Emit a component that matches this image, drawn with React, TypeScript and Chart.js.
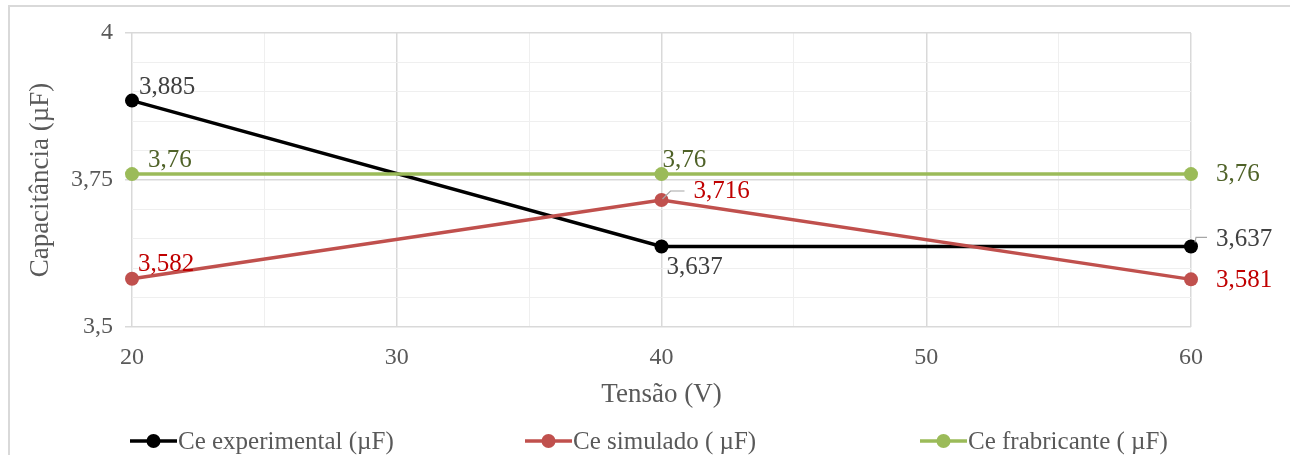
import React, { useEffect, useRef } from "react";
import { Chart, registerables } from "chart.js";

Chart.register(...registerables);

// ---- Data ----
const voltages = [20, 40, 60];
const ceExperimental = [3.885, 3.637, 3.637];
const ceSimulado = [3.582, 3.716, 3.581];
const ceFabricante = [3.76, 3.76, 3.76];
const seriesNames = ["Ce experimental (µF)", "Ce simulado ( µF)", "Ce frabricante ( µF)"];
const yTickLabels = [3.5, 3.75, 4];
const xTickLabels = [20, 30, 40, 50, 60];
const xAxisTitle = "Tensão (V)";
const yAxisTitle = "Capacitância (µF)";

// ---- Styles ----
const lineColors = ["#000000", "#C0504D", "#9BBB59"];
const labelColors = ["#404040", "#C00000", "#4F6228"];
const FONT = "'Liberation Serif', 'Times New Roman', serif";

// data-label placement relative to each point (px)
const labelPlacement = [
  [{ dx: 7, dy: -13 }, { dx: 5, dy: 21 }, { dx: 25, dy: -7, leader: "a" }],
  [{ dx: 6, dy: -14 }, { dx: 32, dy: -9, leader: "b" }, { dx: 25, dy: 1 }],
  [{ dx: 16, dy: -14 }, { dx: 1, dy: -14 }, { dx: 25, dy: 0 }],
];

const fmt = (v: number) => String(Math.round(v * 1000) / 1000).replace(".", ",");
const isMajorY = (v: number) => yTickLabels.some((t) => Math.abs(t - v) < 1e-6);
const isMajorX = (v: number) => xTickLabels.some((t) => Math.abs(t - v) < 1e-6);

const dataLabelPlugin = {
  id: "dataLabels",
  afterDatasetsDraw(chart: any) {
    const ctx = chart.ctx;
    ctx.save();
    ctx.font = `25px ${FONT}`;
    ctx.textAlign = "left";
    ctx.textBaseline = "middle";
    chart.data.datasets.forEach((ds: any, di: number) => {
      const meta = chart.getDatasetMeta(di);
      meta.data.forEach((pt: any, i: number) => {
        const pl = labelPlacement[di][i];
        const px = pt.x;
        const py = pt.y;
        if (pl.leader) {
          ctx.strokeStyle = "#a6a6a6";
          ctx.lineWidth = 1.2;
          ctx.beginPath();
          if (pl.leader === "a") {
            ctx.moveTo(px + 4, py - 4);
            ctx.lineTo(px + 5, py - 9);
            ctx.lineTo(px + 16, py - 9);
          } else {
            ctx.moveTo(px + 1, py - 1);
            ctx.lineTo(px + 9, py - 9);
            ctx.lineTo(px + 23, py - 9);
          }
          ctx.stroke();
        }
        ctx.fillStyle = labelColors[di];
        ctx.fillText(fmt(ds.data[i].y), px + pl.dx, py + pl.dy);
      });
    });
    ctx.restore();
  },
};

function ChartCanvas() {
  const ref = useRef<HTMLCanvasElement | null>(null);
  useEffect(() => {
    if (!ref.current) return;
    const series = [ceExperimental, ceSimulado, ceFabricante];
    const chart = new Chart(ref.current, {
      type: "line",
      data: {
        datasets: series.map((s, si) => ({
          label: seriesNames[si],
          data: voltages.map((x, i) => ({ x, y: s[i] })),
          borderColor: lineColors[si],
          backgroundColor: lineColors[si],
          pointBackgroundColor: lineColors[si],
          pointBorderColor: lineColors[si],
          borderWidth: 3.5,
          pointRadius: 7,
          pointBorderWidth: 0,
          tension: 0,
          clip: false as any,
          order: 3 - si,
        })),
      },
      options: {
        animation: false,
        responsive: false,
        devicePixelRatio: 1,
        layout: { padding: { top: 33, right: 99, left: 0, bottom: 0 } },
        plugins: {
          legend: { display: false },
          title: { display: false },
          tooltip: { enabled: false },
        },
        scales: {
          x: {
            type: "linear",
            min: 20,
            max: 60,
            ticks: {
              stepSize: 5,
              autoSkip: false,
              maxRotation: 0,
              padding: 16,
              color: "#595959",
              font: { family: FONT, size: 24 },
              callback: (v: any) => (isMajorX(Number(v)) ? String(v) : ""),
            },
            grid: {
              color: (c: any) => (c.tick && isMajorX(c.tick.value) ? "#d9d9d9" : "#efefef"),
              lineWidth: (c: any) => (c.tick && isMajorX(c.tick.value) ? 1.5 : 1),
              drawTicks: false,
            },
            border: { display: false },
            title: {
              display: true,
              text: xAxisTitle,
              color: "#595959",
              font: { family: FONT, size: 27 },
              padding: { top: 0, bottom: 44 },
            },
            afterFit: (s: any) => {
              s.height = 128;
            },
          },
          y: {
            min: 3.5,
            max: 4,
            ticks: {
              stepSize: 0.05,
              autoSkip: false,
              padding: 12,
              color: "#595959",
              font: { family: FONT, size: 24 },
              callback: (v: any) => (isMajorY(Number(v)) ? fmt(Number(v)) : ""),
            },
            grid: {
              color: (c: any) => (c.tick && isMajorY(c.tick.value) ? "#d9d9d9" : "#efefef"),
              lineWidth: (c: any) => (c.tick && isMajorY(c.tick.value) ? 1.5 : 1),
              tickLength: 7,
              tickColor: (c: any) => (c.tick && isMajorY(c.tick.value) ? "#d9d9d9" : "rgba(0,0,0,0)"),
            },
            border: { display: false },
            title: {
              display: true,
              text: yAxisTitle,
              color: "#595959",
              font: { family: FONT, size: 27 },
              padding: { top: 25, bottom: 0 },
            },
            afterFit: (s: any) => {
              s.width = 132;
            },
          },
        },
      } as any,
      plugins: [dataLabelPlugin],
    });
    return () => chart.destroy();
  }, []);
  return (
    <canvas
      ref={ref}
      width={1290}
      height={455}
      style={{ position: "absolute", left: 0, top: 0, width: 1290, height: 455, display: "block" }}
    />
  );
}

const legendLefts = [130, 525, 920];

export default function App() {
  return (
    <div style={{ position: "absolute", left: 0, top: 0, width: 1290, height: 455, overflow: "hidden", background: "#fff" }}>
      <div
        style={{
          position: "absolute",
          left: 8,
          top: 5,
          width: 1320,
          height: 480,
          borderTop: "2px solid #d9d9d9",
          borderLeft: "2px solid #d9d9d9",
          boxSizing: "border-box",
        }}
      />
      <ChartCanvas />
      {seriesNames.map((name, i) => (
        <div
          key={name}
          style={{
            position: "absolute",
            left: legendLefts[i],
            top: 427,
            height: 28,
            display: "flex",
            alignItems: "center",
            fontFamily: FONT,
            fontSize: 25,
            color: "#595959",
            whiteSpace: "nowrap",
          }}
        >
          <svg width={47} height={16} style={{ display: "block", marginRight: 1 }}>
            <line x1={0} y1={8} x2={47} y2={8} stroke={lineColors[i]} strokeWidth={3.5} />
            <circle cx={23.5} cy={8} r={7} fill={lineColors[i]} />
          </svg>
          <span>{name}</span>
        </div>
      ))}
    </div>
  );
}
